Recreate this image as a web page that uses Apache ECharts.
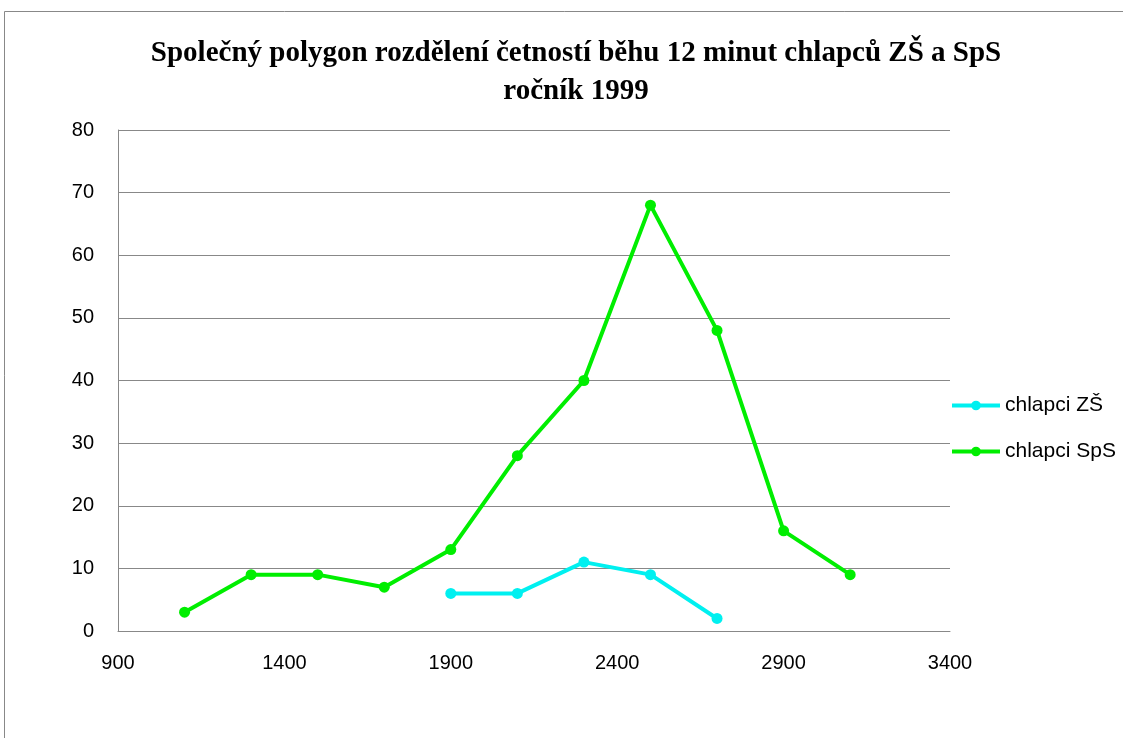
<!DOCTYPE html>
<html><head><meta charset="utf-8">
<script src="https://cdn.jsdelivr.net/npm/echarts@6/dist/echarts.min.js"></script>
<style>html,body{margin:0;padding:0;background:#fff}#c{width:1123px;height:738px}</style>
</head><body><div id="c"></div>
<script>
const titleText = 'Společný polygon rozdělení četností běhu 12 minut chlapců ZŠ a SpS\nročník 1999';
const xZS = [1900, 2100, 2300, 2500, 2700];
const yZS = [6, 6, 11, 9, 2];
const xSpS = [1100, 1300, 1500, 1700, 1900, 2100, 2300, 2500, 2700, 2900, 3100];
const ySpS = [3, 9, 9, 7, 13, 28, 40, 68, 48, 16, 9];
const seriesNames = ['chlapci ZŠ', 'chlapci SpS'];

const chart = echarts.init(document.getElementById('c'), null, {renderer: 'canvas'});
const labelFont = {fontFamily: 'Liberation Sans', fontSize: 20, color: '#000'};
chart.setOption({
  animation: false,
  backgroundColor: '#fff',
  graphic: [{type: 'rect', shape: {x: 4.5, y: 11.5, width: 1300, height: 900}, style: {fill: 'none', stroke: '#888', lineWidth: 1}, silent: true}],
  title: {
    text: titleText, left: 571, top: 30, textAlign: 'center',
    textStyle: {fontFamily: 'Liberation Serif', fontWeight: 'bold', fontSize: 29, lineHeight: 38, color: '#000'}
  },
  legend: {
    orient: 'vertical', left: 950, top: 395, padding: 0, itemWidth: 48, itemHeight: 12, itemGap: 25,
    textStyle: {fontFamily: 'Liberation Sans', fontSize: 21, color: '#000'},
    lineStyle: {width: 4},
    data: seriesNames
  },
  grid: {left: 118, top: 130, width: 832, height: 501},
  xAxis: {
    type: 'value', min: 900, max: 3400, interval: 500,
    axisLine: {show: true, lineStyle: {color: '#888', width: 1}},
    axisTick: {show: false},
    splitLine: {show: false},
    axisLabel: Object.assign({margin: 22, formatter: v => String(v)}, labelFont)
  },
  yAxis: {
    type: 'value', min: 0, max: 80, interval: 10,
    axisLine: {show: true, lineStyle: {color: '#888', width: 1}},
    axisTick: {show: false},
    splitLine: {show: true, lineStyle: {color: '#888', width: 1}},
    axisLabel: Object.assign({margin: 24}, labelFont)
  },
  series: [
    {name: seriesNames[0], type: 'line', data: xZS.map((x, i) => [x, yZS[i]]),
     symbol: 'circle', symbolSize: 11, lineStyle: {width: 4, color: '#00f0f0'}, itemStyle: {color: '#00f0f0'}},
    {name: seriesNames[1], type: 'line', data: xSpS.map((x, i) => [x, ySpS[i]]),
     symbol: 'circle', symbolSize: 11, lineStyle: {width: 4, color: '#00ee00'}, itemStyle: {color: '#00ee00'}}
  ]
});
</script></body></html>
